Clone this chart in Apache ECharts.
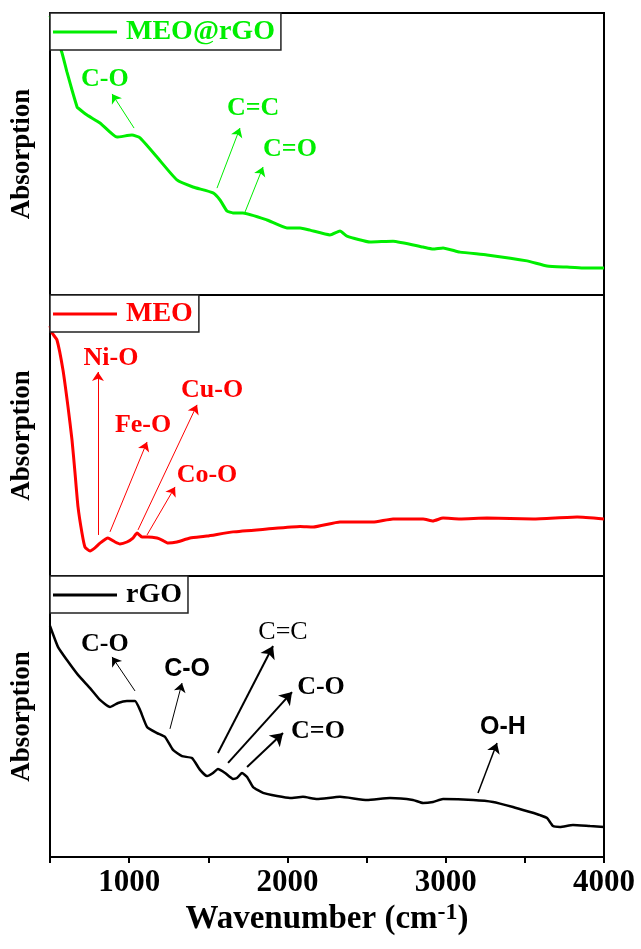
<!DOCTYPE html>
<html>
<head>
<meta charset="utf-8">
<script src="https://cdn.jsdelivr.net/npm/echarts@6/dist/echarts.min.js"></script>
<style>
html,body{margin:0;padding:0;background:#fff;}
#chart{width:641px;height:949px;}
</style>
</head>
<body>
<div id="chart"></div>
<script>
// ---------- Data ----------
const seriesNames = ['MEO@rGO', 'MEO', 'rGO'];
const xTicks = [1000, 2000, 3000, 4000];

const meoRgoWn  = [500, 576, 607, 639, 671, 677, 734, 816, 923, 1018, 1069, 1176, 1302, 1403, 1530, 1574, 1618, 1656, 1719, 1871, 1997, 2080, 2143, 2269, 2332, 2376, 2522, 2667, 2857, 2920, 2983, 3090, 3261, 3514, 3640, 3766, 3868, 4000];
const meoRgoAbs = [99, 85.8, 79.1, 72.7, 66.7, 66.3, 63.8, 61.0, 56.0, 56.7, 55.7, 48.9, 40.8, 38.3, 36.2, 33.7, 29.8, 29.1, 29.1, 26.6, 23.8, 23.8, 23.0, 21.3, 22.7, 20.9, 18.8, 19.1, 17.0, 16.3, 16.7, 15.2, 14.2, 12.1, 10.3, 9.9, 9.6, 9.6];

const meoWn  = [500, 513, 544, 582, 614, 639, 658, 677, 702, 721, 753, 784, 816, 866, 911, 942, 986, 1024, 1050, 1081, 1119, 1176, 1208, 1246, 1302, 1385, 1492, 1656, 1871, 2080, 2162, 2332, 2541, 2667, 2857, 2920, 2983, 3090, 3261, 3552, 3830, 4000];
const meoAbs = [89, 86.5, 84.0, 73.3, 60.1, 48.4, 36.7, 24.6, 15.3, 10.3, 8.9, 10.0, 11.7, 13.5, 12.1, 11.4, 12.1, 13.5, 15.3, 13.9, 13.9, 13.5, 12.8, 11.7, 12.1, 13.5, 14.2, 15.7, 16.7, 17.6, 17.4, 19.2, 19.2, 20.3, 20.3, 19.6, 20.6, 20.3, 20.6, 20.3, 21.0, 20.3];

const rgoWn  = [500, 551, 607, 677, 753, 816, 879, 930, 986, 1037, 1069, 1113, 1176, 1227, 1277, 1334, 1397, 1448, 1492, 1530, 1561, 1606, 1656, 1681, 1713, 1745, 1783, 1846, 1934, 2016, 2098, 2187, 2332, 2503, 2648, 2793, 2857, 2920, 2983, 3173, 3299, 3425, 3533, 3596, 3640, 3678, 3722, 3804, 3912, 4000];
const rgoAbs = [82.2, 74.7, 70.1, 64.8, 60.1, 55.9, 53.4, 54.8, 55.5, 55.5, 52.3, 46.3, 44.1, 42.7, 38.1, 35.9, 35.2, 31.0, 28.8, 29.9, 31.3, 29.9, 27.8, 28.1, 29.9, 28.5, 24.9, 22.8, 21.7, 21.0, 21.4, 20.6, 21.4, 20.3, 21.0, 20.3, 19.2, 19.6, 20.6, 20.3, 19.6, 17.8, 16.0, 14.9, 13.9, 11.0, 10.7, 11.4, 11.0, 10.7];

// annotations: label text, label position [wn, abs], arrow start, arrow end
const meoRgoLabels   = ['C-O', 'C=C', 'C=O'];
const meoRgoLabelPos = [[847, 76.6], [1783, 66.3], [2016, 51.8]];
const meoRgoArrowFrom = [[1031, 59.2], [1555, 37.9], [1732, 29.4]];
const meoRgoArrowTo   = [[892, 71.3], [1700, 59.2], [1846, 45.4]];

const meoLabels   = ['Ni-O', 'Fe-O', 'Cu-O', 'Co-O'];
const meoLabelPos = [[885, 77.6], [1088, 53.7], [1524, 66.2], [1492, 35.9]];
const meoArrowFrom = [[803, 14.6], [879, 15.7], [1056, 16.4], [1113, 14.6]];
const meoArrowTo   = [[803, 72.6], [1113, 47.7], [1429, 60.9], [1290, 31.7]];

const rgoLabels   = ['C-O', 'C-O', 'C=C', 'C-O', 'C=O', 'O-H'];
const rgoLabelPos = [[847, 75.8], [1366, 66.9], [1972, 80.1], [2212, 60.5], [2193, 44.8], [3362, 46.3]];
const rgoArrowFrom = [[1037, 59.1], [1258, 45.6], [1561, 37.0], [1625, 33.5], [1745, 32.0], [3204, 22.8]];
const rgoArrowTo   = [[892, 71.2], [1334, 61.9], [1909, 75.1], [2029, 58.7], [1972, 44.1], [3324, 40.6]];

// ---------- Styles ----------
const SERIF = '"Liberation Serif", "Times New Roman", serif';
const SANS = '"Liberation Sans", Arial, sans-serif';
const colors = ['#00ee00', '#ff0000', '#000000'];
const lineWidths = [3, 3, 2.5];
const rgoFonts = [SERIF, SANS, SERIF, SERIF, SERIF, SANS];
const rgoWeights = ['bold', 'bold', 'normal', 'bold', 'bold', 'bold'];
const rgoArrowWidths = [1, 1, 2, 2, 2, 1.5];
const rgoHeadSizes = [9, 9, 12, 12, 12, 10];

const grids = [
  {left: 50, width: 554, top: 13, height: 282},
  {left: 50, width: 554, top: 295, height: 281},
  {left: 50, width: 554, top: 576, height: 281}
];

function zip(a, b) { return a.map((v, i) => [v, b[i]]); }

function makeMarks(labels, pos, from, to, color, fonts, weights, widths, heads) {
  return {
    markLine: {
      silent: true,
      animation: false,
      symbol: ['none', 'arrow'],
      symbolSize: 9,
      label: {show: false},
      emphasis: {disabled: true},
      data: from.map((f, i) => [
        {coord: f, symbol: 'none', lineStyle: {color: color, width: widths ? widths[i] : 1, type: 'solid'}},
        {coord: to[i], symbol: 'arrow', symbolSize: heads ? heads[i] : 9}
      ])
    },
    markPoint: {
      silent: true,
      animation: false,
      symbol: 'circle',
      symbolSize: 1,
      itemStyle: {color: 'rgba(0,0,0,0)'},
      data: labels.map((t, i) => ({
        coord: pos[i], name: t, value: t,
        label: {
          show: true, position: 'inside', formatter: t, color: color,
          fontFamily: fonts ? fonts[i] : SERIF,
          fontWeight: weights ? weights[i] : 'bold',
          fontSize: (fonts && fonts[i] === SANS) ? 25 : 26
        }
      }))
    }
  };
}

const xAxes = grids.map((g, i) => ({
  type: 'value', gridIndex: i, min: 500, max: 4000, interval: 500,
  axisLine: {show: i === 2, onZero: false, lineStyle: {color: '#000', width: 2}},
  axisTick: {show: i === 2, inside: false, length: 6, lineStyle: {color: '#000', width: 2}},
  axisLabel: i === 2 ? {
    show: true, margin: 10, color: '#000', fontFamily: SERIF, fontWeight: 'bold', fontSize: 31,
    showMinLabel: true, showMaxLabel: true,
    formatter: v => (xTicks.indexOf(v) >= 0 ? String(v) : '')
  } : {show: false},
  splitLine: {show: false},
  name: i === 2 ? '{a|Wavenumber (cm}{b|-1}{a|)}' : '',
  nameLocation: 'middle',
  nameGap: 44,
  nameTextStyle: {
    rich: {
      a: {fontFamily: SERIF, fontWeight: 'bold', fontSize: 33, color: '#000', lineHeight: 36},
      b: {fontFamily: SERIF, fontWeight: 'bold', fontSize: 24, color: '#000', verticalAlign: 'top', lineHeight: 36, padding: [0, 0, 14, 0]}
    }
  }
}));

const yAxes = grids.map((g, i) => ({
  type: 'value', gridIndex: i, min: 0, max: 100,
  axisLine: {show: false}, axisTick: {show: false}, axisLabel: {show: false}, splitLine: {show: false},
  name: 'Absorption', nameLocation: 'middle', nameGap: 14,
  nameTextStyle: {fontFamily: SERIF, fontWeight: 'bold', fontSize: 27, color: '#000'}
}));

const legendWidths = [230, 147, 136];
const legends = seriesNames.map((n, i) => ({
  data: [{name: n, icon: 'rect'}], left: 50, top: grids[i].top,
  orient: 'horizontal',
  itemWidth: 64, itemHeight: 3,
  padding: [5, 6, 4, 3],
  borderColor: '#222', borderWidth: 1.5, backgroundColor: '#fff',
  selectedMode: false,
  itemStyle: {color: colors[i], borderWidth: 0},
  textStyle: {fontFamily: SERIF, fontWeight: 'bold', fontSize: 28, color: colors[i], padding: [0, 0, 0, 4]}
}));

const series = [
  Object.assign({
    name: seriesNames[0], type: 'line', xAxisIndex: 0, yAxisIndex: 0,
    data: zip(meoRgoWn, meoRgoAbs), showSymbol: false, symbol: 'none', smooth: 0.15,
    lineStyle: {color: colors[0], width: lineWidths[0]}, itemStyle: {color: colors[0]}
  }, makeMarks(meoRgoLabels, meoRgoLabelPos, meoRgoArrowFrom, meoRgoArrowTo, colors[0])),
  Object.assign({
    name: seriesNames[1], type: 'line', xAxisIndex: 1, yAxisIndex: 1,
    data: zip(meoWn, meoAbs), showSymbol: false, symbol: 'none', smooth: 0.15,
    lineStyle: {color: colors[1], width: lineWidths[1]}, itemStyle: {color: colors[1]}
  }, makeMarks(meoLabels, meoLabelPos, meoArrowFrom, meoArrowTo, colors[1])),
  Object.assign({
    name: seriesNames[2], type: 'line', xAxisIndex: 2, yAxisIndex: 2,
    data: zip(rgoWn, rgoAbs), showSymbol: false, symbol: 'none', smooth: 0.15,
    lineStyle: {color: colors[2], width: lineWidths[2]}, itemStyle: {color: colors[2]}
  }, makeMarks(rgoLabels, rgoLabelPos, rgoArrowFrom, rgoArrowTo, colors[2], rgoFonts, rgoWeights, rgoArrowWidths, rgoHeadSizes))
];

const chart = echarts.init(document.getElementById('chart'), null, {renderer: 'canvas'});
chart.setOption({
  animation: false,
  backgroundColor: '#fff',
  grid: grids.map(g => Object.assign({show: true, borderColor: '#000', borderWidth: 2, backgroundColor: 'transparent'}, g)),
  xAxis: xAxes,
  yAxis: yAxes,
  legend: legends,
  series: series
});
</script>
</body>
</html>
